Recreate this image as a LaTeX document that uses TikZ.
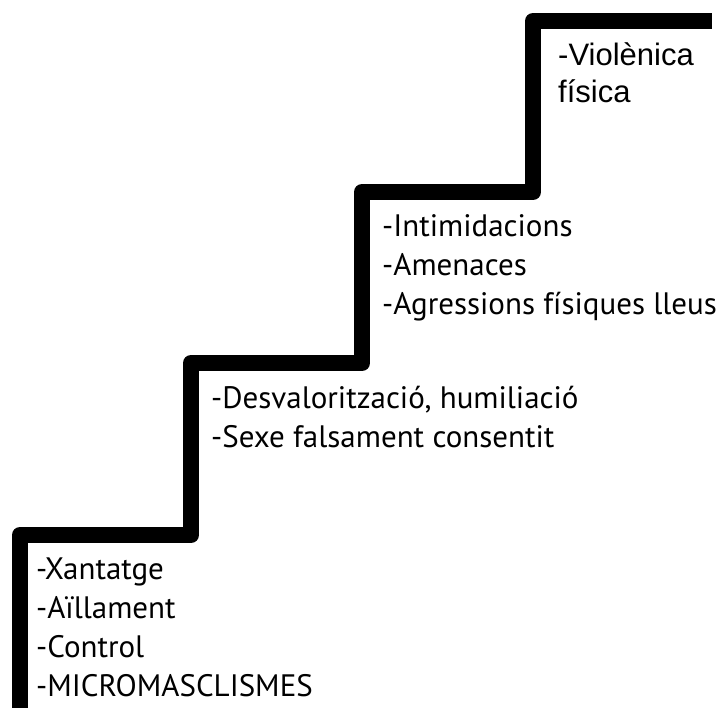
\documentclass[tikz,border=0pt]{standalone}
\usepackage{fontspec}
\setmainfont{PT Sans}
\newfontfamily\arialfont{Liberation Sans}
\usetikzlibrary{positioning}

\begin{document}
\begin{tikzpicture}[
    x=1pt, y=-1pt,
    stair/.style={
        draw=black, line width=16pt, line join=round
    },
    levelnote/.style={
        anchor=base west, align=left, inner sep=0pt,
        font=\fontsize{31}{39}\selectfont
    }
]
\useasboundingbox (0,0) rectangle (722,707);

% Corners of the stair
\coordinate (floor) at (20,730);
\coordinate (s1) at (20,535);
\coordinate (s1e) at (191,535);
\coordinate (s2) at (191,363);
\coordinate (s2e) at (362,363);
\coordinate (s3) at (362,192);
\coordinate (s3e) at (533,192);
\coordinate (s4) at (533,21);
\coordinate (s4e) at (712,21);

\draw[stair] (floor) -- (s1) -- (s1e) -- (s2) -- (s2e) -- (s3) -- (s3e) -- (s4) -- (s4e);

% Notes on each step (anchored at the last line)
\node[levelnote] (note1) at (36,696) {-Xantatge\\-Aïllament\\-Control\\-MICROMASCLISMES};
\node[levelnote] (note2) at (211,447) {-Desvalorització, humiliació\\-Sexe falsament consentit};
\node[levelnote] (note3) at (382,314) {-Intimidacions\\-Amenaces\\-Agressions físiques lleus};
\node[levelnote, font=\arialfont\fontsize{31}{37}\selectfont] (note4) at (558,102) {-Violènica\\física};

\end{tikzpicture}
\end{document}
